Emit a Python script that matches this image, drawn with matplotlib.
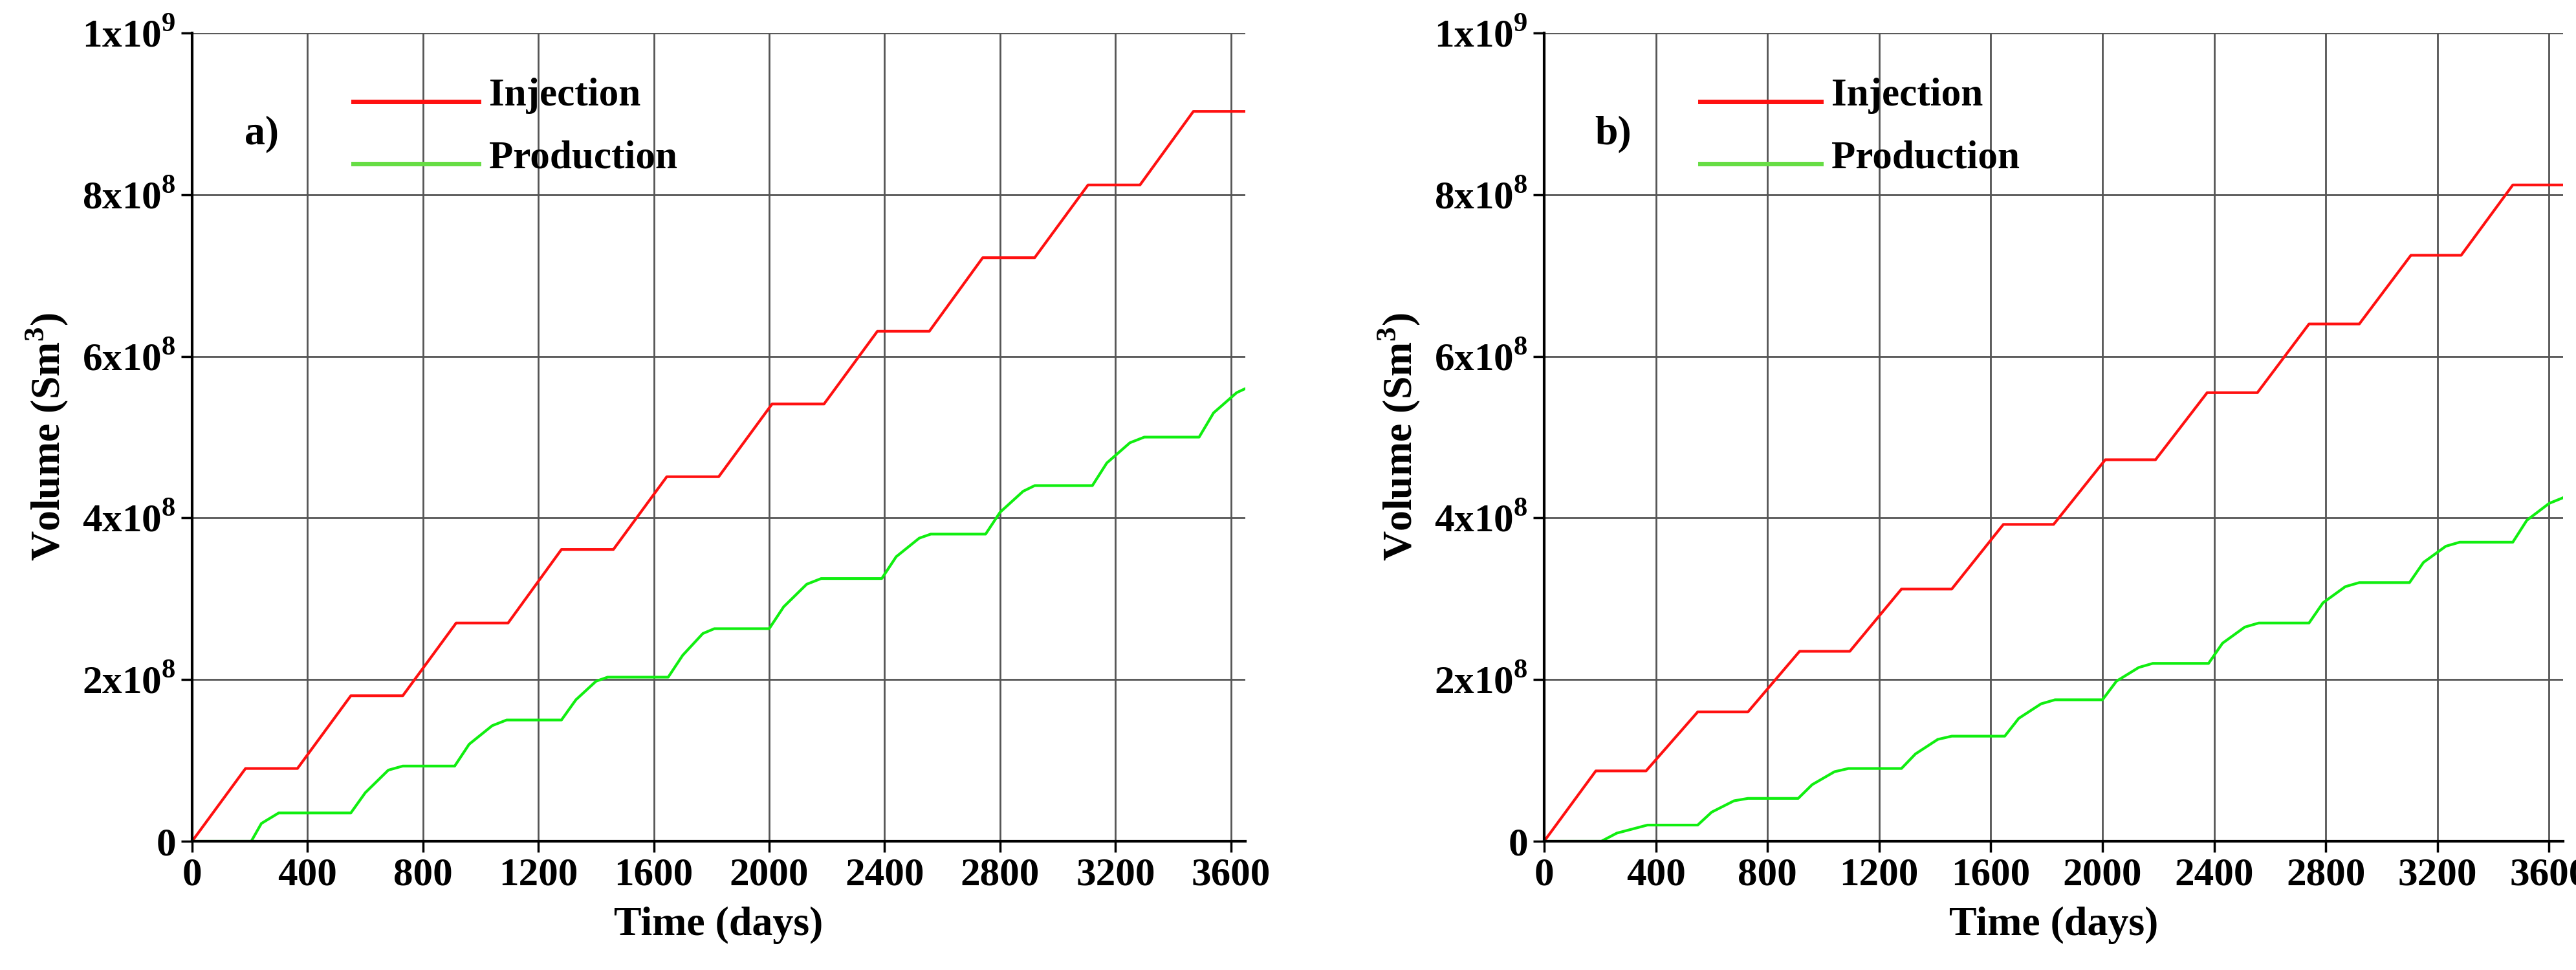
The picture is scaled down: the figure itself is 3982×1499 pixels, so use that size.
import matplotlib
matplotlib.use("Agg")
import matplotlib.pyplot as plt

plt.rcParams['font.family'] = ['Liberation Serif', 'DejaVu Serif']
plt.rcParams['font.weight'] = 'bold'
plt.rcParams['mathtext.fontset'] = 'custom'
plt.rcParams['mathtext.rm'] = 'Liberation Serif:bold'
plt.rcParams['mathtext.bf'] = 'Liberation Serif:bold'

# Panel a
inj_a_t = [0, 185, 365, 550, 730, 915, 1095, 1280, 1460, 1645, 1825, 2010, 2190, 2375, 2555, 2740, 2920, 3105, 3285, 3470, 3650]
inj_a_v = [0, 0.90, 0.90, 1.80, 1.80, 2.70, 2.70, 3.61, 3.61, 4.51, 4.51, 5.41, 5.41, 6.31, 6.31, 7.22, 7.22, 8.12, 8.12, 9.03, 9.03]
prod_a_t = [0, 205, 240, 300, 550, 600, 680, 730, 910, 960, 1040, 1090, 1280, 1330, 1400, 1440, 1650, 1700, 1770, 1810, 2000, 2050, 2130, 2180, 2390, 2440, 2520, 2560, 2750, 2800, 2880, 2920, 3120, 3170, 3250, 3300, 3490, 3540, 3620, 3650]
prod_a_v = [0, 0, 0.22, 0.35, 0.35, 0.60, 0.88, 0.93, 0.93, 1.20, 1.43, 1.50, 1.50, 1.75, 1.98, 2.03, 2.03, 2.30, 2.57, 2.63, 2.63, 2.90, 3.18, 3.25, 3.25, 3.52, 3.75, 3.80, 3.80, 4.07, 4.33, 4.40, 4.40, 4.68, 4.93, 5.00, 5.00, 5.30, 5.55, 5.60]

# Panel b
inj_b_t = [0, 185, 365, 550, 730, 915, 1095, 1280, 1460, 1645, 1825, 2010, 2190, 2375, 2555, 2740, 2920, 3105, 3285, 3470, 3650]
inj_b_v = [0, 0.87, 0.87, 1.60, 1.60, 2.35, 2.35, 3.12, 3.12, 3.92, 3.92, 4.72, 4.72, 5.55, 5.55, 6.40, 6.40, 7.25, 7.25, 8.12, 8.12]
prod_b_t = [0, 205, 260, 370, 550, 600, 680, 730, 910, 960, 1040, 1090, 1280, 1330, 1410, 1460, 1650, 1700, 1780, 1830, 2000, 2050, 2130, 2180, 2380, 2430, 2510, 2560, 2740, 2790, 2870, 2920, 3100, 3150, 3230, 3280, 3470, 3520, 3600, 3650]
prod_b_v = [0, 0, 0.10, 0.20, 0.20, 0.36, 0.50, 0.53, 0.53, 0.70, 0.86, 0.90, 0.90, 1.08, 1.26, 1.30, 1.30, 1.52, 1.70, 1.75, 1.75, 1.98, 2.15, 2.20, 2.20, 2.45, 2.65, 2.70, 2.70, 2.95, 3.15, 3.20, 3.20, 3.45, 3.65, 3.70, 3.70, 3.97, 4.18, 4.25]

yticks = [0, 2e8, 4e8, 6e8, 8e8, 1e9]
ylabels = ['0', r'2x10$^{8}$', r'4x10$^{8}$', r'6x10$^{8}$', r'8x10$^{8}$', r'1x10$^{9}$']
xticks = list(range(0, 3601, 400))

fig = plt.figure(figsize=(39.82, 14.99), dpi=100)
axes = [fig.add_axes([297/3982, 1-1300/1499, 1628/3982, 1249/1499]),
        fig.add_axes([2387/3982, 1-1300/1499, 1575/3982, 1249/1499])]
data = [(inj_a_t, inj_a_v, prod_a_t, prod_a_v, 'a)'), (inj_b_t, inj_b_v, prod_b_t, prod_b_v, 'b)')]

for ax, (it, iv, pt, pv, lab) in zip(axes, data):
    ax.plot(it, [v * 1e8 for v in iv], color='#ff1010', lw=3)
    ax.plot(pt, [v * 1e8 for v in pv], color='#10ee10', lw=3)
    ax.set_xlim(0, 3650)
    ax.set_ylim(0, 1e9)
    ax.set_xticks(xticks)
    ax.set_yticks(yticks)
    ax.set_yticklabels(ylabels)
    ax.grid(True, color='#555555', lw=2)
    ax.tick_params(labelsize=44, width=2.5, length=12, direction='out', pad=6)
    for s in ['top', 'right']:
        ax.spines[s].set_visible(False)
    for s in ['left', 'bottom']:
        ax.spines[s].set_linewidth(3)
    ax.set_xlabel('Time (days)', fontsize=46, fontweight='bold', labelpad=14)
    ax.set_ylabel(r'Volume (Sm$^{3}$)', fontsize=46, fontweight='bold', labelpad=14)
    ax.text(0.05, 0.875, lab, transform=ax.transAxes, fontsize=46, fontweight='bold', va='center')
    ax.plot([0.153, 0.272], [0.915, 0.915], transform=ax.transAxes, color='#ff1010', lw=5)
    ax.plot([0.153, 0.272], [0.838, 0.838], transform=ax.transAxes, color='#66dd44', lw=5)
    ax.text(0.282, 0.922, 'Injection', transform=ax.transAxes, fontsize=44, fontweight='bold', va='center')
    ax.text(0.282, 0.845, 'Production', transform=ax.transAxes, fontsize=44, fontweight='bold', va='center')

fig.savefig('out.png', dpi=100, facecolor='white')
